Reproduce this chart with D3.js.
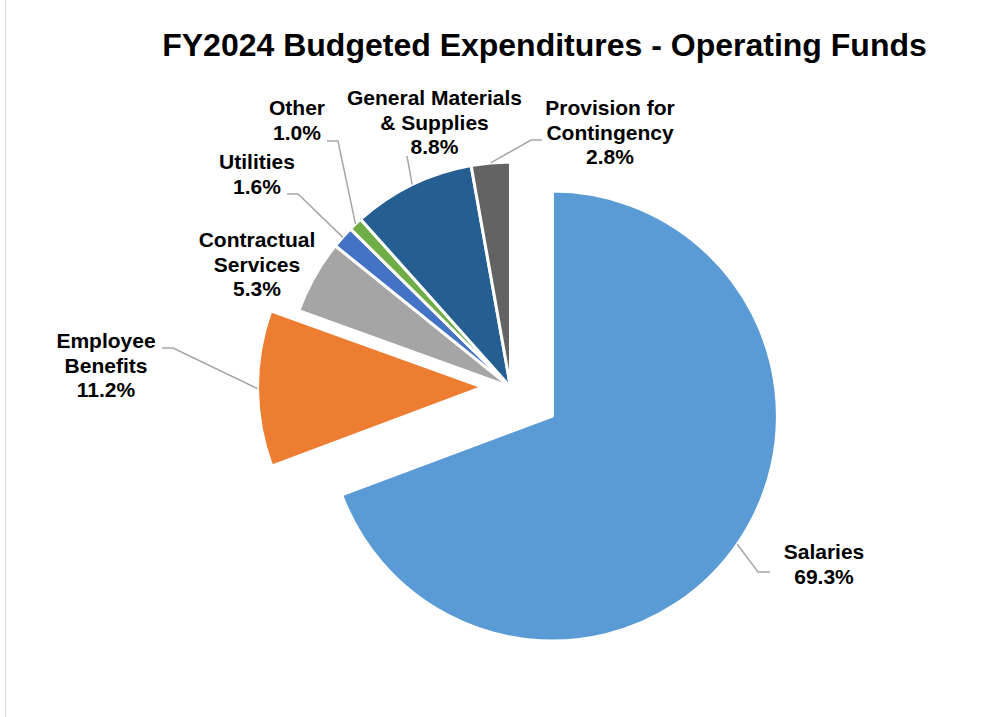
<!DOCTYPE html>
<html>
<head>
<meta charset="utf-8">
<script src="https://cdn.jsdelivr.net/npm/d3@7"></script>
<style>
    html, body { margin: 0; padding: 0; background: #fff; }
    svg { display: block; }
</style>
</head>
<body>
<svg id="chart" width="1007" height="717"></svg>
<script>
// chart data
const categories = ['Salaries', 'Employee Benefits', 'Contractual Services', 'Utilities',
    'Other', 'General Materials & Supplies', 'Provision for Contingency'];
const shares = [69.3, 11.2, 5.3, 1.6, 1.0, 8.8, 2.8];
const labelLines = [
    ['Salaries'],
    ['Employee', 'Benefits'],
    ['Contractual', 'Services'],
    ['Utilities'],
    ['Other'],
    ['General Materials', '& Supplies'],
    ['Provision for', 'Contingency']
];

// styling / layout
const colors = ['#5B9BD5', '#ED7D31', '#A5A5A5', '#4472C4', '#70AD47', '#255E91', '#636363'];
const explode = [51, 28, 0, 0, 0, 0, 0];
const labelPos = [
    {x: 824, y: 559, leader: [[770, 572], [758, 572]]},
    {x: 106, y: 348, leader: [[162, 348], [173, 348]]},
    {x: 257, y: 247, leader: null},
    {x: 257, y: 169, leader: [[287, 194], [298, 194]]},
    {x: 297, y: 115, leader: [[327, 141], [338, 141]]},
    {x: 434.5, y: 105, leader: [[407, 156]]},
    {x: 610, y: 115, leader: [[542, 140], [531, 140]]}
];

const cx = 510.5, cy = 387, radius = 225;
const lineHeight = 24.5;
const fmt = d3.format('.1f');

const svg = d3.select('#chart');

// chart frame (only the left edge is inside the picture)
svg.append('rect')
    .attr('x', 5.5).attr('y', -2)
    .attr('width', 1010).attr('height', 725)
    .attr('fill', 'none')
    .attr('stroke', '#D9D9D9')
    .attr('stroke-width', 1);

svg.append('text')
    .attr('x', 544.5)
    .attr('y', 56)
    .attr('text-anchor', 'middle')
    .attr('font-family', 'Liberation Sans, Arial, sans-serif')
    .attr('font-weight', 'bold')
    .attr('font-size', 32)
    .attr('fill', '#000')
    .text('FY2024 Budgeted Expenditures - Operating Funds');

const pie = d3.pie().sort(null).value(function (d) { return d; });
const arcs = pie(shares);
const arc = d3.arc().innerRadius(0).outerRadius(radius);

function midAngle(d) {
    return (d.startAngle + d.endAngle) / 2;
}

function sliceCenter(d, i) {
    const a = midAngle(d);
    return [cx + explode[i] * Math.sin(a), cy - explode[i] * Math.cos(a)];
}

svg.append('g').attr('class', 'slices')
    .selectAll('path')
    .data(arcs).enter().append('path')
    .attr('transform', function (d, i) {
        const c = sliceCenter(d, i);
        return 'translate(' + c[0] + ',' + c[1] + ')';
    })
    .attr('d', arc)
    .attr('fill', function (d, i) { return colors[i]; })
    .attr('stroke', '#fff')
    .attr('stroke-width', 3)
    .attr('stroke-linejoin', 'round');

// leader lines go from the label to the outer edge at the slice's mid angle
const line = d3.line();
svg.append('g').attr('class', 'leaders')
    .selectAll('path')
    .data(arcs.filter(function (d, i) { return labelPos[i].leader; }))
    .enter().append('path')
    .attr('d', function (d) {
        const i = d.index;
        const c = sliceCenter(d, i);
        const a = midAngle(d);
        const end = [c[0] + radius * Math.sin(a), c[1] - radius * Math.cos(a)];
        return line(labelPos[i].leader.concat([end]));
    })
    .attr('fill', 'none')
    .attr('stroke', '#A6A6A6')
    .attr('stroke-width', 1.5);

const labels = svg.append('g').attr('class', 'labels')
    .selectAll('text')
    .data(arcs).enter().append('text')
    .attr('text-anchor', 'middle')
    .attr('font-family', 'Liberation Sans, Arial, sans-serif')
    .attr('font-weight', 'bold')
    .attr('font-size', 21)
    .attr('fill', '#000');

labels.each(function (d, i) {
    const t = d3.select(this);
    const rows = labelLines[i].concat([fmt(shares[i]) + '%']);
    rows.forEach(function (row, k) {
        t.append('tspan')
            .attr('x', labelPos[i].x)
            .attr('y', labelPos[i].y + k * lineHeight)
            .text(row);
    });
});
</script>
</body>
</html>
